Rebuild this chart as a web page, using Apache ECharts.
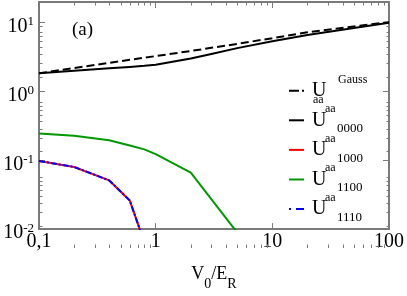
<!DOCTYPE html>
<html>
<head>
<meta charset="utf-8">
<script src="https://cdn.jsdelivr.net/npm/echarts@6/dist/echarts.min.js"></script>
<style>html,body{margin:0;padding:0;background:#fff;}#c{width:407px;height:296px;}</style>
</head>
<body>
<div id="c"></div>
<script>
// ---- data ----
const xBlack = [0.1, 0.2, 0.4, 0.6, 0.8, 1, 2, 3, 5, 10, 20, 50, 100];
const uGauss = [1.84, 2.19, 2.61, 2.89, 3.10, 3.27, 3.88, 4.31, 4.92, 5.96, 7.28, 8.83, 10.2];
const u0000  = [1.84, 2.00, 2.17, 2.28, 2.36, 2.44, 3.01, 3.52, 4.27, 5.37, 6.62, 8.37, 10.0];
const xGreen = [0.1, 0.2, 0.4, 0.6, 0.8, 1, 2, 5];
const u1100  = [0.245, 0.228, 0.196, 0.164, 0.144, 0.123, 0.066, 0.0089];
const xRed   = [0.1, 0.2, 0.4, 0.6, 0.8];
const u1000  = [0.098, 0.080, 0.051, 0.026, 0.0064];
const u1110  = [0.098, 0.080, 0.051, 0.026, 0.0064];
const xTickLabels = ['0,1', '1', '10', '100'];
const yTickExps = ['-2', '-1', '0', '1'];
const legendSup = ['Gauss', 'aa', 'aa', 'aa', 'aa'];
const legendSub = ['aa', '0000', '1000', '1100', '1110'];

const pairs = (xs, ys) => xs.map((x, i) => [x, ys[i]]);
const FONT = '"Liberation Serif","Times New Roman",serif';
const AX = '#7a7a7a';
const X_MIN = 0.1, X_MAX = 100, Y_MIN = 0.01, Y_MAX = 20;
const GRID = {left: 39, right: 17, top: 2, bottom: 48};

const chart = echarts.init(document.getElementById('c'), null, {renderer: 'canvas'});

function axisCommon(extra) {
  return Object.assign({
    axisLine: {show: true, onZero: false, lineStyle: {color: AX, width: 2}},
    axisTick: {show: true, inside: true, length: 6, lineStyle: {color: AX, width: 1}},
    splitLine: {show: false}
  }, extra);
}

const xMain = axisCommon({
  type: 'log', logBase: 10, min: X_MIN, max: X_MAX, position: 'bottom',
  axisLabel: {
    margin: 3, color: '#000', fontFamily: FONT, fontSize: 20,
    formatter: v => xTickLabels[Math.round(Math.log10(v)) + 1]
  },
  name: '{v|V}{s|0}{v|/E}{s|R}',
  nameLocation: 'middle', nameGap: 12,
  nameTextStyle: {
    rich: {
      v: {fontFamily: FONT, fontSize: 18, color: '#000', lineHeight: 18},
      s: {fontFamily: FONT, fontSize: 14, color: '#000', lineHeight: 14, padding: [20, 0, 0, 0]}
    }
  }
});
const xTop = axisCommon({
  type: 'log', logBase: 10, min: X_MIN, max: X_MAX, position: 'top',
  axisLabel: {show: false}
});
const yMain = axisCommon({
  type: 'log', logBase: 10, min: Y_MIN, max: Y_MAX, position: 'left',
  axisLabel: {
    margin: 5, padding: [8, 0, 0, 0],
    formatter: v => '{b|10}{s|' + yTickExps[Math.round(Math.log10(v)) + 2] + '}',
    rich: {
      b: {fontFamily: FONT, fontSize: 20, color: '#000', lineHeight: 20},
      s: {fontFamily: FONT, fontSize: 13, color: '#000', lineHeight: 13, padding: [0, 0, 10, 0]}
    }
  }
});
const yRight = axisCommon({
  type: 'log', logBase: 10, min: Y_MIN, max: Y_MAX, position: 'right',
  axisLabel: {show: false}
});

const lineSeries = (name, data, color, type, z) => ({
  name, type: 'line', data, showSymbol: false, symbol: 'none', clip: true, z: z,
  xAxisIndex: 0, yAxisIndex: 0,
  lineStyle: {color, width: 2, type: type},
  emphasis: {disabled: true}
});

chart.setOption({
  animation: false,
  backgroundColor: '#fff',
  grid: Object.assign({containLabel: false}, GRID),
  xAxis: [xMain, xTop],
  yAxis: [yMain, yRight],
  series: [
    lineSeries('U_aa^Gauss', pairs(xBlack, uGauss), '#000', [8, 4], 3),
    lineSeries('U_aa_0000', pairs(xBlack, u0000), '#000', 'solid', 3),
    lineSeries('U_aa_1100', pairs(xGreen, u1100), '#009900', 'solid', 3),
    lineSeries('U_aa_1000', pairs(xRed, u1000), '#ff0000', 'solid', 3),
    lineSeries('U_aa_1110', pairs(xRed, u1110), '#0000ff', [6, 2, 2, 2], 4)
  ]
});

// ---- decorations: legend, panel label, minor log ticks ----
const graphics = [];
const legendStyles = [
  {color: '#000', dash: [10, 3, 2, 20]},
  {color: '#000', dash: null},
  {color: '#ff0000', dash: null},
  {color: '#009900', dash: null},
  {color: '#0000ff', dash: [2, 5, 8, 20]}
];
const legendY0 = 90.7, legendStep = 29.6;
legendStyles.forEach((st, i) => {
  const L = legendY0 + i * legendStep;
  graphics.push({type: 'line', shape: {x1: 289, y1: L, x2: 304, y2: L},
    style: {stroke: st.color, lineWidth: 2, lineDash: st.dash || null}});
  graphics.push({type: 'text', x: 312, y: L, style: {text: 'U', font: '20px ' + FONT, fill: '#000', verticalAlign: 'middle', align: 'left'}});
  if (i === 0) {
    graphics.push({type: 'text', x: 338, y: L - 10.5, style: {text: legendSup[i], font: '12px ' + FONT, fill: '#000', verticalAlign: 'middle'}});
    graphics.push({type: 'text', x: 313, y: L + 9.5, style: {text: legendSub[i], font: '12px ' + FONT, fill: '#000', verticalAlign: 'middle'}});
  } else {
    graphics.push({type: 'text', x: 325, y: L - 11.5, style: {text: legendSup[i], font: '12px ' + FONT, fill: '#000', verticalAlign: 'middle'}});
    graphics.push({type: 'text', x: 337, y: L + 8.5, style: {text: legendSub[i], font: '13px ' + FONT, fill: '#000', verticalAlign: 'middle'}});
  }
});
graphics.push({type: 'text', x: 72, y: 30, style: {text: '(a)', font: '19px ' + FONT, fill: '#000', verticalAlign: 'middle'}});

const W = 407 - GRID.left - GRID.right, H = 296 - GRID.top - GRID.bottom;
const manX = v => GRID.left + (Math.log10(v) - Math.log10(X_MIN)) / (Math.log10(X_MAX) - Math.log10(X_MIN)) * W;
const manY = v => GRID.top + (1 - (Math.log10(v) - Math.log10(Y_MIN)) / (Math.log10(Y_MAX) - Math.log10(Y_MIN))) * H;
function libX(v) {
  let p;
  try { p = chart.convertToPixel({xAxisIndex: 0}, v); } catch (e) { p = NaN; }
  return (typeof p === 'number' && isFinite(p) && Math.abs(p - manX(v)) < 2) ? p : manX(v);
}
function libY(v) {
  let p;
  try { p = chart.convertToPixel({yAxisIndex: 0}, v); } catch (e) { p = NaN; }
  return (typeof p === 'number' && isFinite(p) && Math.abs(p - manY(v)) < 2) ? p : manY(v);
}
const gL = GRID.left, gR = 407 - GRID.right, gT = GRID.top, gB = 296 - GRID.bottom;
const MT = 3.5;
const tickLines = [];
for (let e = -1; e < 2; e++) {
  for (let k = 2; k <= 9; k++) {
    const v = k * Math.pow(10, e);
    if (v <= X_MIN || v >= X_MAX) continue;
    const x = Math.round(libX(v)) + 0.5;
    tickLines.push([x, gB, x, gB - MT]);
    tickLines.push([x, gT, x, gT + MT]);
  }
}
for (let e = -2; e < 2; e++) {
  for (let k = 2; k <= 9; k++) {
    const v = k * Math.pow(10, e);
    if (v <= Y_MIN || v >= Y_MAX) continue;
    const y = Math.round(libY(v)) + 0.5;
    tickLines.push([gL, y, gL + MT, y]);
    tickLines.push([gR, y, gR - MT, y]);
  }
}
tickLines.forEach(t => graphics.push({
  type: 'line', silent: true, z: 10,
  shape: {x1: t[0], y1: t[1], x2: t[2], y2: t[3]},
  style: {stroke: AX, lineWidth: 1}
}));
chart.setOption({graphic: graphics});
</script>
</body>
</html>
